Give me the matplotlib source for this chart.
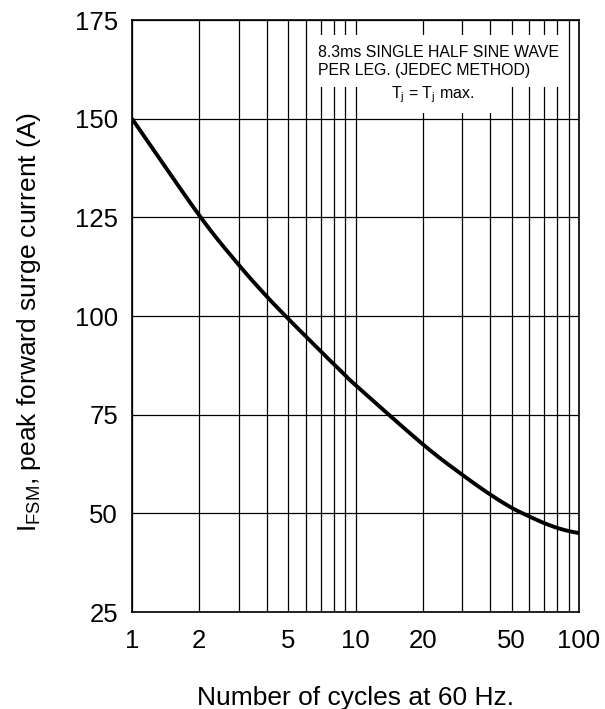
import matplotlib
matplotlib.use("Agg")
import matplotlib.pyplot as plt
from matplotlib.patches import Rectangle
import numpy as np

plt.rcParams['font.family'] = ['Liberation Sans', 'DejaVu Sans']
plt.rcParams['mathtext.fontset'] = 'custom'
plt.rcParams['mathtext.rm'] = 'Liberation Sans'
plt.rcParams['mathtext.it'] = 'Liberation Sans'

# Data
cycles = [1, 2, 3, 4, 5, 6, 7, 8, 9, 10, 20, 30, 40, 50, 60, 70, 80, 90, 100]
surge = [150, 125.5, 113, 105, 99.3, 94.8, 91.0, 87.8, 85.0, 82.5,
         67.5, 59.8, 54.8, 51.4, 49.2, 47.5, 46.3, 45.5, 45.0]

x_ticks = [1, 2, 5, 10, 20, 50, 100]
x_ticklabels = ['1', '2', '5', '10', '20', '50', '100']
y_ticks = [25, 50, 75, 100, 125, 150, 175]
x_grid = [1, 2, 3, 4, 5, 6, 7, 8, 9, 10, 20, 30, 40, 50, 60, 70, 80, 90, 100]


def catmull_rom(px, py, n=30):
    px = np.asarray(px, float)
    py = np.asarray(py, float)
    P = np.column_stack([px, py])
    P = np.vstack([2 * P[0] - P[1], P, 2 * P[-1] - P[-2]])
    out = []
    t = np.linspace(0, 1, n, endpoint=False)[:, None]
    for i in range(1, len(P) - 2):
        p0, p1, p2, p3 = P[i - 1], P[i], P[i + 1], P[i + 2]
        seg = 0.5 * ((2 * p1) + (-p0 + p2) * t + (2 * p0 - 5 * p1 + 4 * p2 - p3) * t ** 2
                     + (-p0 + 3 * p1 - 3 * p2 + p3) * t ** 3)
        out.append(seg)
    out.append(P[-2][None, :])
    return np.vstack(out)


fig = plt.figure(figsize=(6.05, 7.09), dpi=100)
ax = fig.add_axes([132/605, 1-612/709, 447/605, 592/709])
ax.set_xscale('log')
ax.set_xlim(1, 100)
ax.set_ylim(25, 175)

for xv in x_grid:
    ax.axvline(xv, color='black', lw=0.9, zorder=1)
for yv in y_ticks:
    ax.axhline(yv, color='black', lw=0.9, zorder=1)

curve = catmull_rom(np.log10(cycles), surge)
ax.plot(10 ** curve[:, 0], curve[:, 1], color='black', lw=2.8, zorder=3,
        solid_capstyle='butt', clip_on=True)

ax.set_xticks(x_ticks)
ax.set_xticklabels(x_ticklabels)
ax.xaxis.set_minor_locator(matplotlib.ticker.NullLocator())
ax.set_yticks(y_ticks)
ax.tick_params(length=0, labelsize=18.5)
ax.tick_params(axis='x', pad=12)
ax.tick_params(axis='y', pad=10)
for s in ax.spines.values():
    s.set_linewidth(1.2)
    s.set_zorder(5)

ax.set_xlabel('Number of cycles at 60 Hz.', fontsize=19, labelpad=24)
ax.set_ylabel(r'I$_{\mathregular{FSM}}$, peak forward surge current (A)', fontsize=19)
ax.yaxis.set_label_coords(-0.2, 0.49)

# annotation boxes
ax.add_patch(Rectangle((0.398, 0.887), 0.571, 0.088, transform=ax.transAxes,
                       facecolor='white', edgecolor='none', zorder=2))
ax.add_patch(Rectangle((0.53, 0.843), 0.28, 0.044, transform=ax.transAxes,
                       facecolor='white', edgecolor='none', zorder=2))
ax.text(0.416, 0.9375, '8.3ms SINGLE HALF SINE WAVE', transform=ax.transAxes,
        fontsize=11.4, ha='left', va='baseline', zorder=4)
ax.text(0.416, 0.907, 'PER LEG. (JEDEC METHOD)', transform=ax.transAxes,
        fontsize=11.4, ha='left', va='baseline', zorder=4)
ax.text(0.672, 0.868, r'T$_\mathregular{j}$ = T$_\mathregular{j}$ max.', transform=ax.transAxes,
        fontsize=11.4, ha='center', va='baseline', zorder=4)

fig.savefig('out.png', dpi=100)
